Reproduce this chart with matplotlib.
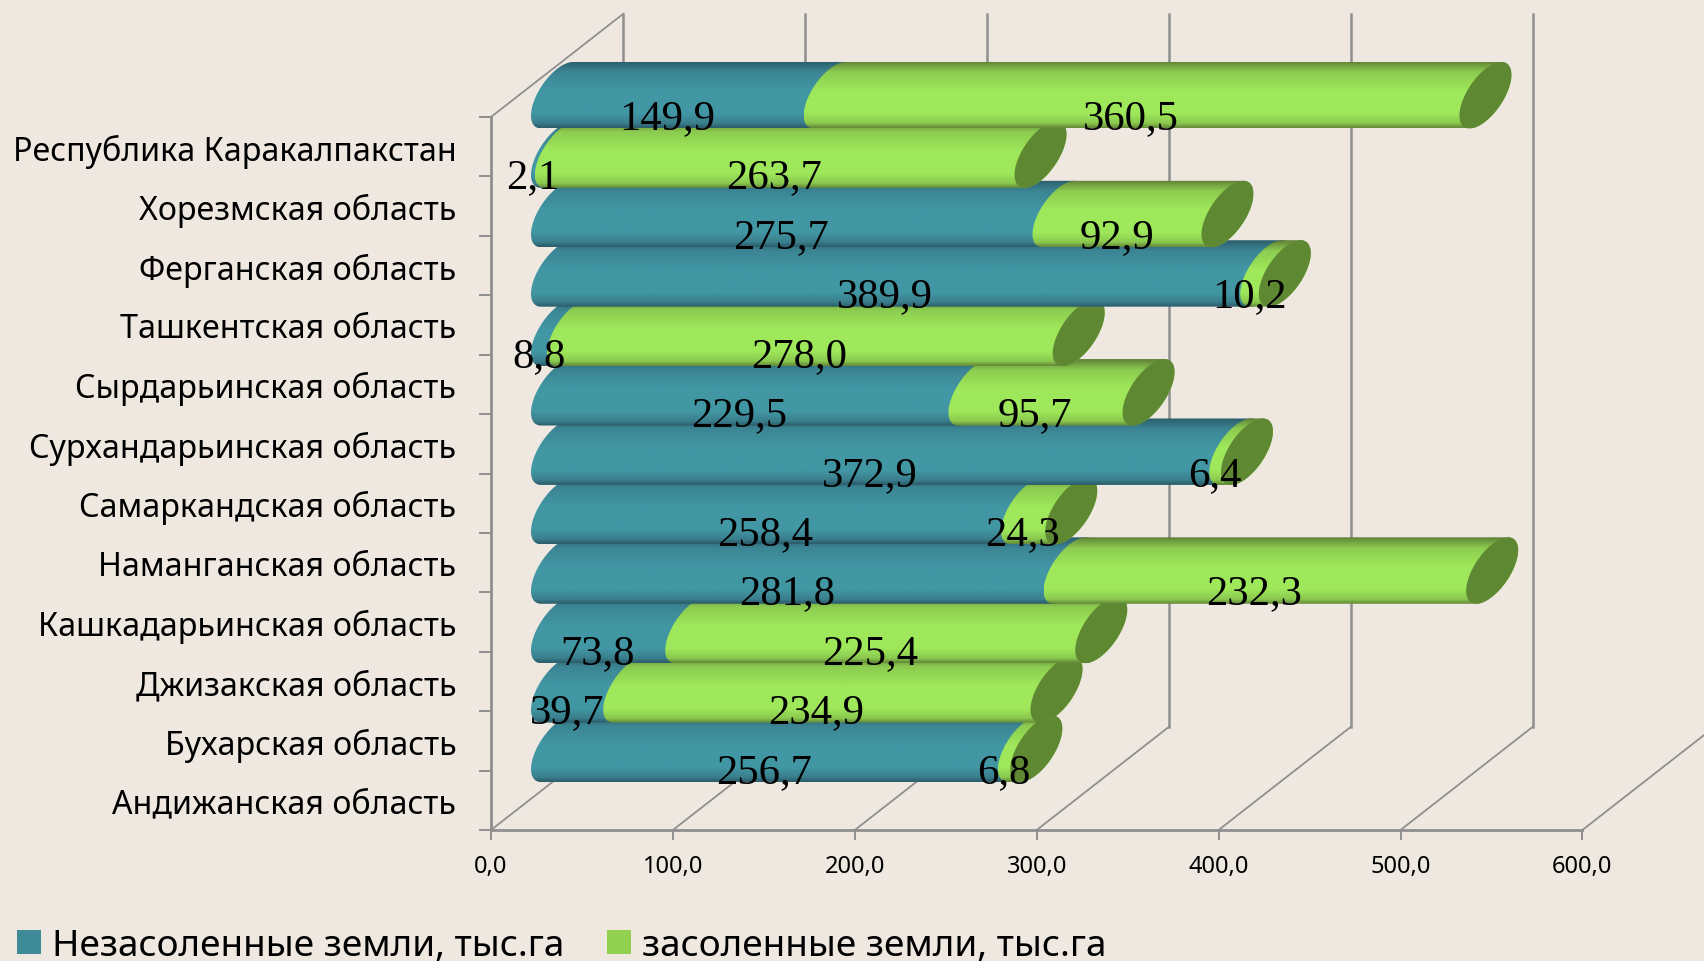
import numpy as np
import matplotlib
matplotlib.use("Agg")
import matplotlib.pyplot as plt
from matplotlib.colors import LinearSegmentedColormap
from matplotlib.patches import Polygon, Patch

# Irrigated land by region, thousand hectares
regions = ["Андижанская область", "Бухарская область", "Джизакская область",
           "Кашкадарьинская область", "Наманганская область", "Самаркандская область",
           "Сурхандарьинская область", "Сырдарьинская область", "Ташкентская область",
           "Ферганская область", "Хорезмская область", "Республика Каракалпакстан"]
non_saline = [256.7, 39.7, 73.8, 281.8, 258.4, 372.9, 229.5, 8.8, 389.9, 275.7, 2.1, 149.9]
saline = [6.8, 234.9, 225.4, 232.3, 24.3, 6.4, 95.7, 278.0, 10.2, 92.9, 263.7, 360.5]
series_names = ["Незасоленные земли, тыс.га", "засоленные земли, тыс.га"]
x_ticks = [0, 100, 200, 300, 400, 500, 600]

BG = "#efe8e1"
GRID = "#8f8f8f"
TEXT_FONT = "Noto Sans"

W, H = 1704, 962
fig = plt.figure(figsize=(W / 100, H / 100), dpi=100, facecolor=BG)
left, right, top, floor = 491, 1582.4, 118, 831
ax = fig.add_axes([left / W, 1 - floor / H, (right - left) / W, (floor - top) / H], facecolor="none")

# Oblique projection: how far the back wall is shifted, in data units
px_x = (right - left) / 600
px_y = (floor - top) / 12
DEPTH_X = 132 / px_x
DEPTH_Y = 103 / px_y
# Semi-axes of the slanted cylinder section
RX = 26 / px_x
RY_DEPTH = 20.3 / px_y
RY_UP = 26.3 / px_y
HALF_H = np.hypot(RY_DEPTH, RY_UP)
T_TOP = np.arctan2(RY_UP, RY_DEPTH)

stops = [0.0, 0.035, 0.16, 0.45, 0.78, 0.93, 0.975, 1.0]
teal = LinearSegmentedColormap.from_list("teal", list(zip(stops, [
    "#2b5c6b", "#2f6675", "#3c8594", "#4297a4", "#4297a4", "#3a7e8c", "#2f6472", "#2d5e6c"])))
green = LinearSegmentedColormap.from_list("green", list(zip(stops, [
    "#5c7c36", "#69913b", "#8ccb50", "#9fe85b", "#9fe85b", "#8ac84e", "#6f9a3f", "#66893b"])))
CAP = "#5f8833"


def section(cx, cy, t0, t1, n=60):
    t = np.linspace(t0, t1, n)
    return np.column_stack([cx + RX * np.cos(t),
                            cy + RY_DEPTH * np.cos(t) + RY_UP * np.sin(t)])


def draw_segment(start, length, row, cmap, z, cap=False):
    # One stacked piece of a cylinder, with its axis at mid depth
    cy = row + 0.5 + DEPTH_Y / 2
    x0 = start + DEPTH_X / 2
    x1 = x0 + length
    outline = np.vstack([section(x0, cy, T_TOP, T_TOP + np.pi),
                         section(x1, cy, T_TOP + np.pi, T_TOP + 2 * np.pi)])
    clip = Polygon(outline, closed=True, transform=ax.transData, facecolor="none", edgecolor="none")
    shade = cmap(np.linspace(0, 1, 256))[:, :3].reshape(256, 1, 3)
    im = ax.imshow(shade, extent=(x0 - RX, x1 + RX, cy - HALF_H, cy + HALF_H), origin="upper",
                   aspect="auto", interpolation="bilinear", zorder=z)
    im.set_clip_path(clip)
    im.set_clip_box(fig.bbox)
    if cap:
        ax.add_patch(Polygon(section(x1, cy, 0, 2 * np.pi, 90), closed=True, facecolor=CAP,
                             edgecolor="none", zorder=z + 0.1, clip_on=False))


# Back wall and floor lines
for v in x_ticks:
    ax.plot([v, v + DEPTH_X], [0, DEPTH_Y], color=GRID, lw=1.3, zorder=1, clip_on=False)
    ax.plot([v + DEPTH_X, v + DEPTH_X], [DEPTH_Y, 12 + DEPTH_Y], color=GRID, lw=1.8, zorder=1, clip_on=False)
ax.plot([0, DEPTH_X], [12, 12 + DEPTH_Y], color=GRID, lw=1.3, zorder=1, clip_on=False)

# Lower rows first, so each bar overlaps the one beneath it
for row, (a, b) in enumerate(zip(non_saline, saline)):
    z = 10 + row
    draw_segment(0, a, row, teal, z)
    draw_segment(a, b, row, green, z + 0.3, cap=True)

# Value labels
for row, (a, b) in enumerate(zip(non_saline, saline)):
    for centre, v in ((a / 2, a), (a + b / 2, b)):
        ax.text(centre + 0.3 * DEPTH_X, row + 0.5 + 0.28 * DEPTH_Y, f"{v:.1f}".replace(".", ","),
                family="Liberation Serif", fontsize=30.7, color="black",
                ha="center", va="center", zorder=100, clip_on=False)

ax.set_xlim(0, 600)
ax.set_ylim(0, 12)
ax.set_xticks(x_ticks)
ax.set_xticklabels([f"{v},0" for v in x_ticks], family=TEXT_FONT, fontsize=17, color="black")
ax.tick_params(axis="x", length=7, width=1.4, color=GRID, pad=10)
ax.set_yticks(np.arange(len(regions)) + 0.5)
ax.set_yticklabels(regions, family=TEXT_FONT, fontsize=23.2, color="black")
ax.tick_params(axis="y", which="major", length=0, pad=25)
ax.set_yticks(np.arange(13), minor=True)
ax.tick_params(axis="y", which="minor", length=9, width=1.4, color=GRID)
for name in ("top", "right"):
    ax.spines[name].set_visible(False)
for name in ("left", "bottom"):
    ax.spines[name].set_color(GRID)
    ax.spines[name].set_linewidth(2)

handles = [Patch(facecolor="#3e8b97"), Patch(facecolor="#92d050")]
fs = 26.6
fig.legend(handles, series_names, loc="lower left", bbox_to_anchor=(17 / W, -3 / H), ncol=2,
           frameon=False, prop={"family": TEXT_FONT, "size": fs},
           handlelength=24 / (fs * 100 / 72), handleheight=24 / (fs * 100 / 72),
           handletextpad=0.3, columnspacing=1.15, borderpad=0, borderaxespad=0)

fig.savefig("out.png", dpi=100, facecolor=BG)
